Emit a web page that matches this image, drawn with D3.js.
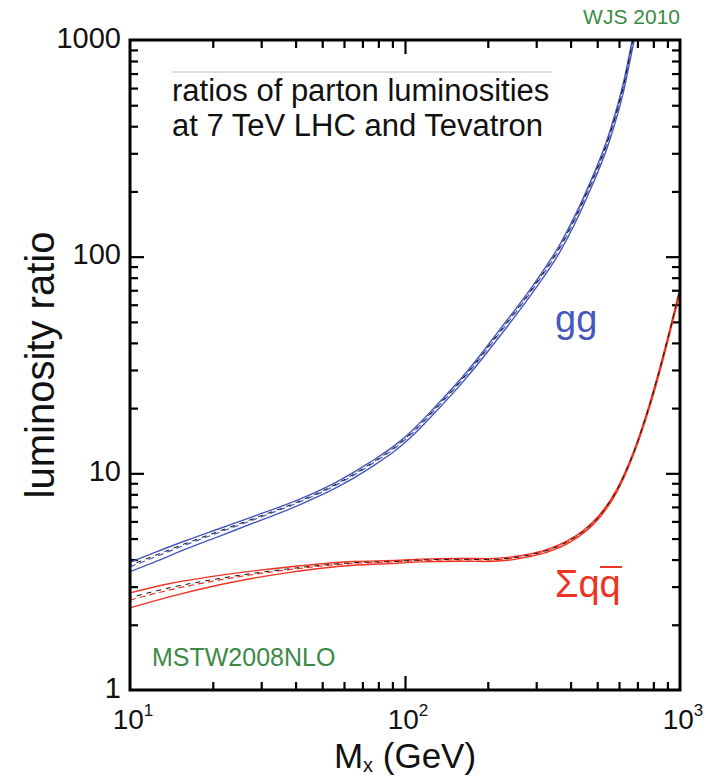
<!DOCTYPE html>
<html><head><meta charset="utf-8">
<script src="https://cdn.jsdelivr.net/npm/d3@7"></script>
<style>body{margin:0;background:#fff}svg{display:block}text{font-family:"Liberation Sans",Arial,sans-serif}</style>
</head><body><svg id="c" width="706" height="778"></svg>
<script>
// ---- data ----
const ggMass    = [10, 12.2, 16.1, 21.2, 28.9, 40.4, 56.5, 75, 95.5, 104.3, 126.8, 167.5, 221.8, 293.1, 366.4, 458.1, 555.9, 622.3, 676.1, 724.4];
const ggRatio   = [3.70, 4.09, 4.70, 5.35, 6.19, 7.28, 8.87, 10.96, 13.6, 15.0, 19.3, 28.5, 44.7, 71.6, 110, 195, 363, 603, 1000, 1500];
const ggErrPct  = [5, 5, 4.5, 4, 3.5, 3, 3, 3, 3, 3, 3, 3, 3.5, 3.5, 4, 4, 4.5, 5, 5, 5];
const qqMass    = [10, 14, 21.2, 37.1, 64.9, 95.6, 113.5, 158, 200, 251, 293, 339, 387, 445, 512, 589, 676, 778, 845, 920, 1000];
const qqRatio   = [2.60, 2.90, 3.22, 3.58, 3.84, 3.91, 3.96, 3.99, 3.98, 4.07, 4.22, 4.45, 4.79, 5.37, 6.38, 8.32, 12.3, 20.9, 30.2, 45.7, 70.1];
const qqErrPct  = [8, 7, 5, 3, 2, 1.5, 1.5, 1.5, 1.5, 1.5, 1.5, 1.5, 1.5, 1.5, 1.5, 1.5, 1.5, 2, 2, 2, 2];
const yTickValues = [1, 10, 100, 1000];
const yTickLabels = ["1", "10", "100", "1000"];
const xTickValues = [10, 100, 1000];
const xTickExp    = ["1", "2", "3"];
const titleLines  = ["ratios of parton luminosities", "at 7 TeV LHC and Tevatron"];

const blue = "#4657bd", red = "#ee3322", green = "#3c8a45";
const svg = d3.select("#c");
const L = 130, R = 680, T = 40, B = 690;
const x = d3.scaleLog().domain([10, 1000]).range([L, R]);
const y = d3.scaleLog().domain([1, 1000]).range([B, T]);

svg.append("defs").append("clipPath").attr("id", "clip")
  .append("rect").attr("x", L).attr("y", T).attr("width", R - L).attr("height", B - T);

// minor tick values
const minorX = [], minorY = [];
for (let d = 10; d < 1000; d *= 10) for (let k = 2; k <= 9; k++) minorX.push(d * k);
for (let d = 1; d < 1000; d *= 10) for (let k = 2; k <= 9; k++) minorY.push(d * k);

function tickAxis(gen, scale, vals, size, tr) {
  const g = svg.append("g").attr("transform", tr)
    .call(gen(scale).tickValues(vals).tickSize(-size).tickFormat(""));
  g.select(".domain").remove();
  g.selectAll("line").attr("stroke", "#000").attr("stroke-width", 2.2);
  return g;
}
// inward ticks on all four sides
tickAxis(d3.axisBottom, x, minorX, 8, `translate(0,${B})`);
tickAxis(d3.axisBottom, x, [100], 14, `translate(0,${B})`);
tickAxis(d3.axisTop, x, minorX, 8, `translate(0,${T})`);
tickAxis(d3.axisTop, x, [100], 14, `translate(0,${T})`);
tickAxis(d3.axisLeft, y, minorY, 8, `translate(${L},0)`);
tickAxis(d3.axisLeft, y, [10, 100], 14, `translate(${L},0)`);
tickAxis(d3.axisRight, y, minorY, 8, `translate(${R},0)`);
tickAxis(d3.axisRight, y, [10, 100], 14, `translate(${R},0)`);

// y tick labels
const yl = svg.append("g").attr("transform", `translate(${L},0)`)
  .call(d3.axisLeft(y).tickValues(yTickValues).tickSize(0).tickPadding(9)
    .tickFormat((d, i) => yTickLabels[i]));
yl.select(".domain").remove();
yl.selectAll("text").attr("font-size", 29).attr("fill", "#111").attr("dy", "0.25em")
  .attr("font-family", "Liberation Sans, Arial, sans-serif");

// x tick labels with superscripts
const xl = svg.append("g");
xTickValues.forEach((v, i) => {
  const t = xl.append("text").attr("x", x(v) + 3).attr("y", 729).attr("text-anchor", "middle")
    .attr("font-size", 28).attr("fill", "#111");
  t.append("tspan").text("10");
  t.append("tspan").attr("font-size", 17).attr("dy", -13).text(xTickExp[i]);
});

// bands
const line = d3.line().curve(d3.curveMonotoneX);
function band(mass, ratio, err, col) {
  const g = svg.append("g").attr("clip-path", "url(#clip)");
  const up = mass.map((m, i) => [x(m), y(ratio[i] * (1 + err[i] / 100))]);
  const lo = mass.map((m, i) => [x(m), y(ratio[i] * (1 - err[i] / 100))]);
  const mid = mass.map((m, i) => [x(m), y(ratio[i])]);
  const midUp = mass.map((m, i) => [x(m), y(ratio[i] * (1 + err[i] / 300))]);
  g.append("path").attr("d", line(up)).attr("fill", "none").attr("stroke", col).attr("stroke-width", 1.4);
  g.append("path").attr("d", line(lo)).attr("fill", "none").attr("stroke", col).attr("stroke-width", 1.4);
  g.append("path").attr("d", line(mid)).attr("fill", "none").attr("stroke", col).attr("stroke-width", 1.2)
    .attr("stroke-dasharray", "6,4");
  g.append("path").attr("d", line(midUp)).attr("fill", "none").attr("stroke", "#111").attr("stroke-width", 1)
    .attr("stroke-dasharray", "5,5").attr("stroke-dashoffset", 3);
}
band(ggMass, ggRatio, ggErrPct, blue);
band(qqMass, qqRatio, qqErrPct, red);

// frame
svg.append("rect").attr("x", L).attr("y", T).attr("width", R - L).attr("height", B - T)
  .attr("fill", "none").attr("stroke", "#000").attr("stroke-width", 3);

// legend title block
svg.append("line").attr("x1", 172).attr("x2", 552).attr("y1", 72).attr("y2", 72)
  .attr("stroke", "#bbb").attr("stroke-width", 1);
titleLines.forEach((s, i) => {
  svg.append("text").attr("x", 172).attr("y", 101 + i * 35).attr("font-size", 31)
    .attr("fill", "#111").text(s);
});

// curve labels
svg.append("text").attr("x", 555).attr("y", 332).attr("font-size", 38).attr("fill", blue).text("gg");
svg.append("text").attr("x", 555).attr("y", 597).attr("font-size", 38).attr("fill", red).text("Σqq");
svg.append("line").attr("x1", 600).attr("x2", 622).attr("y1", 567).attr("y2", 567)
  .attr("stroke", red).attr("stroke-width", 2);

// annotations
svg.append("text").attr("x", 680).attr("y", 24).attr("text-anchor", "end").attr("font-size", 21)
  .attr("fill", green).text("WJS 2010");
svg.append("text").attr("x", 152).attr("y", 666).attr("font-size", 25)
  .attr("fill", green).text("MSTW2008NLO");

// axis titles
svg.append("text").attr("transform", `translate(54,${(T + B) / 2}) rotate(-90)`)
  .attr("text-anchor", "middle").attr("font-size", 40).attr("fill", "#111").text("luminosity ratio");
const xt = svg.append("text").attr("x", 405).attr("y", 768).attr("text-anchor", "middle")
  .attr("font-size", 35).attr("fill", "#111");
xt.append("tspan").text("M");
xt.append("tspan").attr("font-size", 20).attr("dy", 4).text("x");
xt.append("tspan").attr("dy", -4).text(" (GeV)");
</script></body></html>
